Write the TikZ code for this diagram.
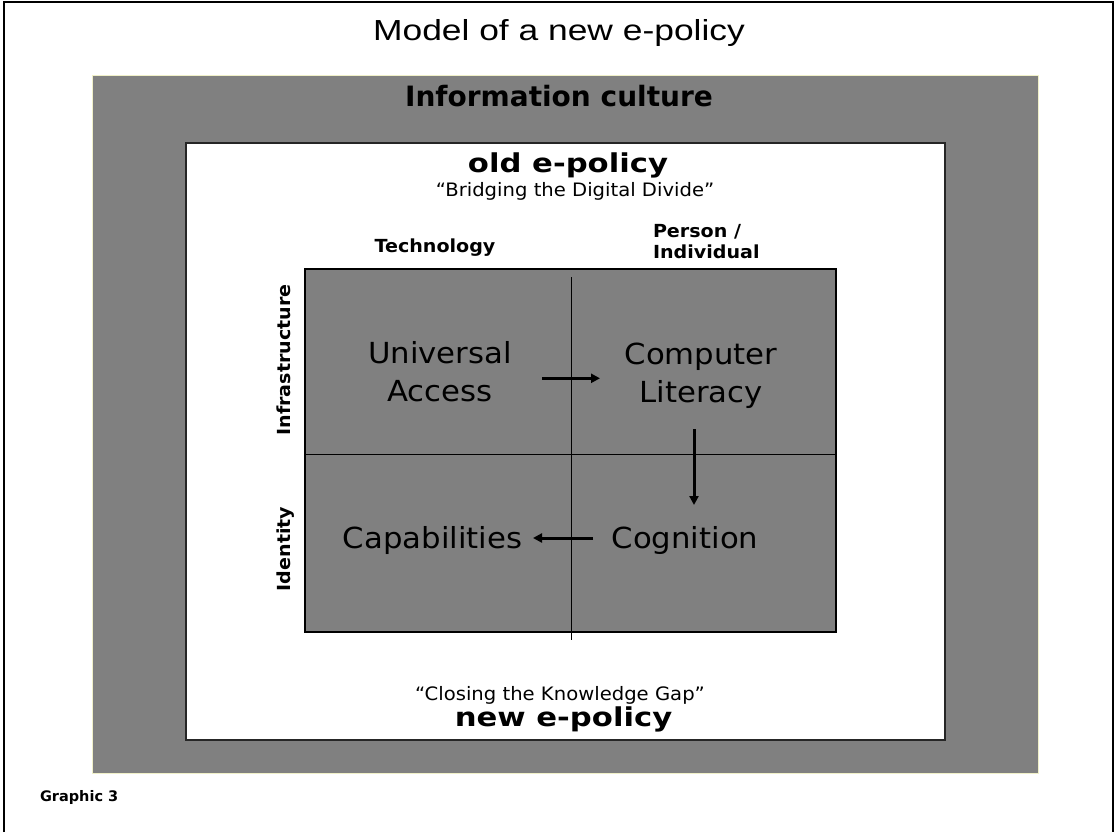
\documentclass[tikz,border=0pt]{standalone}
\usepackage{fontspec}
\usepackage{graphicx}
\usetikzlibrary{arrows.meta}
\newfontfamily\dvA{DejaVu Sans}
\newfontfamily\dvB[FakeStretch=1.06]{DejaVu Sans}
\newfontfamily\dvC[FakeStretch=1.18]{DejaVu Sans}
\newfontfamily\arA[FakeStretch=1.22]{Liberation Sans}
\definecolor{midgray}{HTML}{808080}
\definecolor{paleedge}{HTML}{F0F0C8}
\begin{document}
\begin{tikzpicture}[x=1pt,y=-1pt,
  lbl/.style={inner sep=0pt, outer sep=0pt, text=black},
  axislbl/.style={lbl, font=\dvB\bfseries\fontsize{18}{21}\selectfont},
  celltxt/.style={lbl, align=center, font=\dvB\fontsize{29}{38}\selectfont},
  subtitle/.style={lbl, anchor=base, font=\dvB\fontsize{18.5}{22}\selectfont},
  policy/.style={lbl, anchor=base, font=\dvC\bfseries\fontsize{26}{30}\selectfont},
  arr/.style={line width=3pt, -{Triangle[length=9pt,width=9pt]}},
  divider/.style={line width=0.9pt},
]
\useasboundingbox (0,0) rectangle (1115,832);
\fill[white] (0,0) rectangle (1115,832);
\draw[line width=1.5pt] (4,832) -- (4,2) -- (1113,2) -- (1113,832);
\draw[fill=midgray, draw=paleedge, line width=1pt] (92,76) rectangle (1038,773);
\draw[fill=white, draw=black!85, line width=1.5pt] (186,143) rectangle (945,740);
\draw[fill=midgray, draw=black, line width=1.2pt] (305,269) rectangle (836,632);
\draw[divider] (571,277) -- (571,640);
\draw[divider] (305,454) -- (836,454);

\node[lbl, anchor=base, font=\arA\fontsize{29}{34}\selectfont] (title) at (559,40.7) {Model of a new e-policy};
\node[lbl, anchor=base, font=\dvA\bfseries\fontsize{28}{34}\selectfont] (culture) at (559,106.7) {Information culture};
\node[policy] (old) at (568,172) {old e-policy};
\node[subtitle] (bridge) at (575,196.7) {“Bridging the Digital Divide”};
\node[axislbl, anchor=base] (tech) at (435,252) {Technology};
\node[axislbl, anchor=base west] (person) at (653,237) {Person /};
\node[axislbl, anchor=base west] (indiv) at (653,258) {Individual};
\node[axislbl, rotate=90, anchor=base] (infra) at (290,360) {Infrastructure};
\node[axislbl, rotate=90, anchor=base] (ident) at (290,549) {Identity};

\node[celltxt] (ua) at (440,372) {Universal\\Access};
\node[celltxt] (cl) at (701,375.4) {Computer\\Literacy};
\node[celltxt, anchor=base] (cap) at (432.6,548) {Capabilities};
\node[celltxt, anchor=base] (cog) at (685,548) {Cognition};

\draw[arr] (ua) ++(102,6.3) -- ++(58,0);
\draw[arr] (cl) ++(-7,53.6) -- ++(0,76);
\draw[arr] (cog.base) ++(-92,-10) -- ++(-60,0);

\node[subtitle] (close) at (560,700.7) {“Closing the Knowledge Gap”};
\node[policy] (new) at (563.5,726.7) {new e-policy};
\node[lbl, anchor=base west, font=\dvA\bfseries\fontsize{14.5}{17}\selectfont] (graphic) at (40,801) {Graphic 3};
\end{tikzpicture}
\end{document}
